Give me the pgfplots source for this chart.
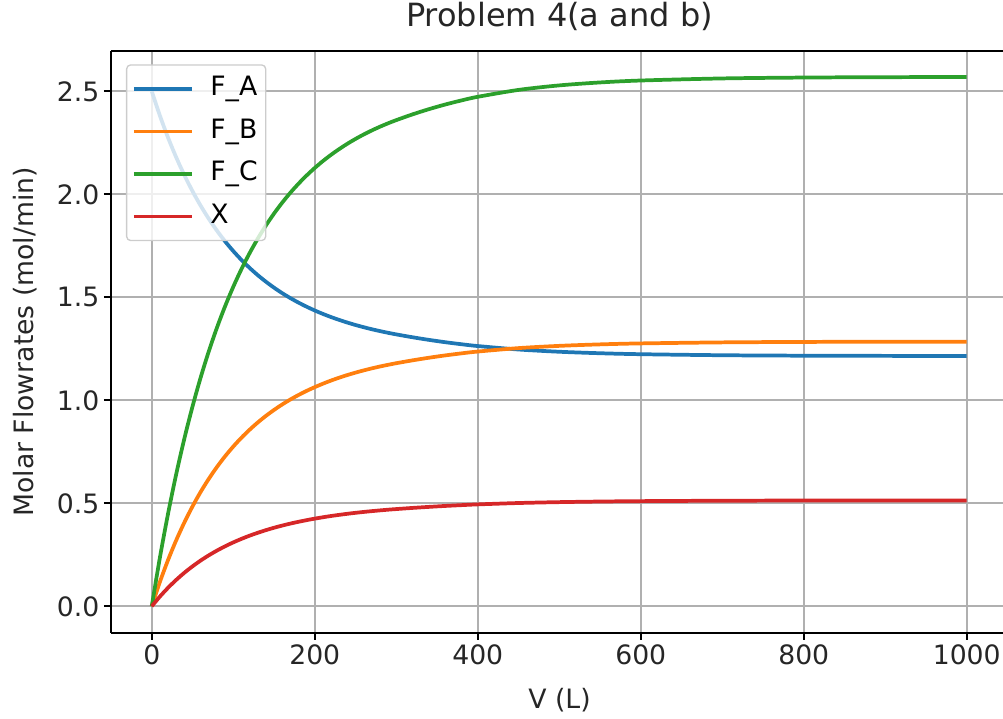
\documentclass[border=0pt]{standalone}
\usepackage{fontspec}
\setmainfont{DejaVu Sans}
\usepackage{pgfplots}
\pgfplotsset{compat=1.18}
\usepackage{pgfplotstable}
\definecolor{tabblue}{HTML}{1F77B4}
\definecolor{taborange}{HTML}{FF7F0E}
\definecolor{tabgreen}{HTML}{2CA02C}
\definecolor{tabred}{HTML}{D62728}
\definecolor{gridgray}{HTML}{B0B0B0}
\definecolor{legendgray}{HTML}{CCCCCC}

\pgfplotstableread{
V     FA      FB      FC      X
0     2.5     0       0       0
10    2.3818  0.1183  0.2365  0.0473
20    2.2753  0.2247  0.4494  0.0899
30    2.1795  0.3205  0.6411  0.1282
40    2.0931  0.4069  0.8138  0.1628
50    2.0152  0.4848  0.9697  0.1939
60    1.9448  0.5553  1.1105  0.2221
70    1.8812  0.6188  1.2377  0.2475
80    1.8237  0.6763  1.3526  0.2705
90    1.7716  0.7284  1.4567  0.2913
100   1.7246  0.7754  1.5508  0.3102
110   1.6818  0.8182  1.6363  0.3273
120   1.6431  0.8569  1.7138  0.3428
130   1.6079  0.8921  1.7842  0.3568
140   1.5760  0.9241  1.8481  0.3696
150   1.5469  0.9531  1.9063  0.3813
160   1.5204  0.9796  1.9592  0.3918
170   1.4963  1.0037  2.0073  0.4015
180   1.4744  1.0256  2.0512  0.4102
190   1.4544  1.0457  2.0913  0.4183
200   1.4361  1.0639  2.1279  0.4256
210   1.4194  1.0806  2.1613  0.4323
220   1.4041  1.0959  2.1918  0.4384
230   1.3902  1.1099  2.2197  0.4439
240   1.3774  1.1227  2.2453  0.4491
250   1.3656  1.1344  2.2688  0.4538
260   1.3549  1.1452  2.2903  0.4581
270   1.3450  1.1550  2.3100  0.4620
280   1.3360  1.1641  2.3281  0.4656
290   1.3276  1.1724  2.3448  0.4690
300   1.3200  1.1801  2.3601  0.4720
320   1.3060  1.1940  2.3881  0.4776
340   1.2934  1.2066  2.4132  0.4826
360   1.2821  1.2179  2.4358  0.4872
380   1.2722  1.2279  2.4557  0.4911
400   1.2634  1.2367  2.4733  0.4947
450   1.2466  1.2534  2.5068  0.5014
500   1.2357  1.2643  2.5287  0.5057
550   1.2285  1.2715  2.5430  0.5086
600   1.2238  1.2762  2.5524  0.5105
700   1.2188  1.2812  2.5625  0.5125
800   1.2166  1.2834  2.5668  0.5134
900   1.2157  1.2843  2.5686  0.5137
1000  1.2153  1.2847  2.5694  0.5139
}\datatable

\begin{document}
\begin{tikzpicture}
\useasboundingbox (-83.25pt,-64.7pt) rectangle (669pt,474.5pt);
\begin{axis}[
  at={(0,0)}, anchor=south west,
  scale only axis, width=669pt, height=436.3pt,
  xmin=-50, xmax=1044.5, ymin=-0.128, ymax=2.696,
  axis y line*=left,
  xtick pos=bottom,
  tick align=outside,
  major tick length=5.25pt,
  every tick/.style={black, line width=1.5pt},
  axis line style={black, line width=1.5pt},
  xtick={0,200,400,600,800,1000},
  ytick={0,0.5,1,1.5,2,2.5},
  /pgf/number format/assume math mode=true,
  yticklabel style={/pgf/number format/.cd, fixed, fixed zerofill, precision=1},
  xticklabel style={/pgf/number format/.cd, fixed, precision=0, 1000 sep={}},
  ticklabel style={font=\fontsize{20}{24}\selectfont, text=black!85},
  grid=major,
  grid style={color=gridgray, line width=1.5pt},
  title={Problem 4(a and b)},
  title style={at={(axis description cs:0.5,1.0447)}, anchor=center, xshift=1.9pt, font=\fontsize{24}{29}\selectfont, text=black!85},
  xlabel={V (L)},
  xlabel style={at={(axis description cs:0.5,-0.1152)}, anchor=center, xshift=1.9pt, font=\fontsize{20}{24}\selectfont, text=black!85},
  ylabel={Molar Flowrates (mol/min)},
  ylabel style={at={(axis description cs:-0.0964,0.5)}, anchor=center, rotate=0, font=\fontsize{20}{24}\selectfont, text=black!85},
  legend cell align=left,
  legend image code/.code={\draw[#1] (0pt,0pt) -- (43.5pt,0pt);},
  legend style={at={(axis description cs:0,1)}, anchor=north west, xshift=11.25pt, yshift=-10pt,
    draw=legendgray, line width=1pt, rounded corners=3pt, fill=white, fill opacity=0.8, text opacity=1,
    font=\fontsize{20}{24}\selectfont, inner xsep=4pt, inner ysep=6pt, row sep=7.9pt, column sep=10.5pt,
    nodes={text height=15pt, text depth=5pt, inner sep=2pt}},
]
\addplot[tabblue, line width=2.8pt, smooth] table[x=V, y=FA] {\datatable};
\addlegendentry{F\_A}
\addplot[taborange, line width=2.8pt, smooth] table[x=V, y=FB] {\datatable};
\addlegendentry{F\_B}
\addplot[tabgreen, line width=2.8pt, smooth] table[x=V, y=FC] {\datatable};
\addlegendentry{F\_C}
\addplot[tabred, line width=2.8pt, smooth] table[x=V, y=X] {\datatable};
\addlegendentry{X}
\end{axis}
\end{tikzpicture}
\end{document}
